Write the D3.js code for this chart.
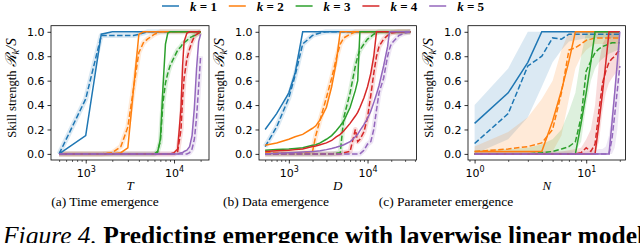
<!DOCTYPE html>
<html><head><meta charset="utf-8">
<script src="https://cdn.jsdelivr.net/npm/d3@7"></script>
<style>body{margin:0;background:#fff;overflow:hidden}</style>
</head><body>
<svg id="c" width="640" height="243"></svg>
<script>
const colors = ["#1f77b4", "#ff7f0e", "#2ca02c", "#d62728", "#9467bd"];
const kValues = [1, 2, 3, 4, 5];
const yTicks = [0, 0.2, 0.4, 0.6, 0.8, 1.0];
const SERIF = "'Liberation Serif'";

// (a) Time emergence
const timeT = [500, 1000, 1500, 2000, 2500, 3000, 3500, 4000, 4500, 5000, 6000, 6500, 7000, 7500, 8000, 8500, 9000, 10000, 11000, 12000, 12500, 13000, 14000, 15000, 16000, 17000, 18000, 19000, 20000];
const timeSolid = [
  [0, 0.15, 0.98, 1, 1, 1, 1, 1, 1, 1, 1, 1, 1, 1, 1, 1, 1, 1, 1, 1, 1, 1, 1, 1, 1, 1, 1, 1, 1],
  [0, 0, 0, 0, 0.01, 0.05, 0.55, 0.98, 1, 1, 1, 1, 1, 1, 1, 1, 1, 1, 1, 1, 1, 1, 1, 1, 1, 1, 1, 1, 1],
  [0, 0, 0, 0, 0, 0, 0, 0, 0, 0, 0, 0.01, 0.12, 0.55, 0.9, 0.99, 1, 1, 1, 1, 1, 1, 1, 1, 1, 1, 1, 1, 1],
  [0, 0, 0, 0, 0, 0, 0, 0, 0, 0, 0, 0, 0, 0, 0, 0, 0, 0.01, 0.04, 0.38, 0.72, 0.92, 0.99, 1, 1, 1, 1, 1, 1],
  [0, 0, 0, 0, 0, 0, 0, 0, 0, 0, 0, 0, 0, 0, 0, 0, 0, 0, 0, 0.01, 0.01, 0.02, 0.03, 0.06, 0.15, 0.38, 0.7, 0.92, 0.98]
];
const timeDashed = [
  [0, 0.45, 0.97, 0.97, 0.97, 0.97, 0.97, 0.98, 0.99, 1, 1, 1, 1, 1, 1, 1, 1, 1, 1, 1, 1, 1, 1, 1, 1, 1, 1, 1, 1],
  [0, 0, 0, 0.01, 0.06, 0.22, 0.55, 0.83, 0.91, 0.94, 0.98, 0.99, 1, 1, 1, 1, 1, 1, 1, 1, 1, 1, 1, 1, 1, 1, 1, 1, 1],
  [0, 0, 0, 0, 0, 0, 0, 0, 0, 0, 0, 0.02, 0.1, 0.42, 0.58, 0.66, 0.72, 0.79, 0.85, 0.88, 0.9, 0.91, 0.93, 0.95, 0.96, 0.97, 0.98, 0.99, 1],
  [0, 0, 0, 0, 0, 0, 0, 0, 0, 0, 0, 0, 0, 0, 0, 0, 0, 0, 0.02, 0.2, 0.45, 0.62, 0.78, 0.86, 0.92, 0.96, 0.98, 0.99, 1],
  [0, 0, 0, 0, 0, 0, 0, 0, 0, 0, 0, 0, 0, 0, 0, 0, 0, 0, 0, 0, 0, 0, 0, 0.01, 0.04, 0.12, 0.3, 0.55, 0.8]
];

// (b) Data emergence
const dataD = [500, 700, 1000, 1200, 1500, 2000, 2200, 2500, 3000, 3500, 4000, 4500, 5000, 6000, 7000, 7500, 8000, 9000, 10000, 11000, 12000, 13000, 14000, 16000, 18000, 19000, 20000, 25000, 30000, 35000];
const dataSolid = [
  [0.2, 0.33, 0.5, 0.66, 1, 1, 1, 1, 1, 1, 1, 1, 1, 1, 1, 1, 1, 1, 1, 1, 1, 1, 1, 1, 1, 1, 1, 1, 1, 1],
  [0.07, 0.09, 0.12, 0.14, 0.16, 0.21, 0.23, 0.28, 0.38, 0.55, 0.75, 1, 1, 1, 1, 1, 1, 1, 1, 1, 1, 1, 1, 1, 1, 1, 1, 1, 1, 1],
  [0.03, 0.035, 0.04, 0.045, 0.05, 0.07, 0.075, 0.09, 0.12, 0.15, 0.19, 0.23, 0.27, 0.38, 0.52, 0.6, 1, 1, 1, 1, 1, 1, 1, 1, 1, 1, 1, 1, 1, 1],
  [0.02, 0.025, 0.03, 0.035, 0.04, 0.06, 0.065, 0.075, 0.09, 0.11, 0.14, 0.16, 0.19, 0.25, 0.31, 0.34, 0.38, 0.46, 0.55, 0.66, 0.8, 1, 1, 1, 1, 1, 1, 1, 1, 1],
  [0, 0.005, 0.01, 0.012, 0.015, 0.02, 0.022, 0.025, 0.035, 0.045, 0.055, 0.065, 0.075, 0.1, 0.14, 0.16, 0.19, 0.24, 0.29, 0.35, 0.42, 0.49, 0.56, 0.72, 0.88, 1, 1, 1, 1, 1]
];
const dataDashed = [
  [0.06, 0.22, 0.46, 0.64, 0.9, 0.97, 0.98, 0.99, 1, 1, 1, 1, 1, 1, 1, 1, 1, 1, 1, 1, 1, 1, 1, 1, 1, 1, 1, 1, 1, 1],
  [0.01, 0.01, 0.01, 0.01, 0.01, 0.02, 0.15, 0.28, 0.46, 0.62, 0.78, 0.9, 0.95, 0.98, 1, 1, 1, 1, 1, 1, 1, 1, 1, 1, 1, 1, 1, 1, 1, 1],
  [0, 0, 0, 0, 0, 0, 0, 0, 0, 0, 0.005, 0.01, 0.3, 0.5, 0.72, 0.8, 0.85, 0.9, 0.94, 0.96, 0.98, 0.99, 1, 1, 1, 1, 1, 1, 1, 1],
  [0, 0, 0, 0, 0, 0, 0, 0, 0, 0, 0, 0, 0.01, 0.02, 0.2, 0.1, 0.12, 0.18, 0.3, 0.48, 0.66, 0.8, 0.88, 0.94, 0.97, 0.98, 0.99, 1, 1, 1],
  [0, 0, 0, 0, 0, 0, 0, 0, 0, 0, 0, 0, 0, 0, 0, 0, 0, 0.03, 0.08, 0.1, 0.2, 0.36, 0.5, 0.62, 0.8, 0.86, 0.9, 0.97, 0.99, 1]
];

// (c) Parameter emergence
const paramN = [1, 2, 3, 4, 5, 6, 7, 8, 9, 10, 11, 12, 13, 14, 15, 16, 17, 18, 19, 20];
const paramSolid = [
  [0.25, 0.5, 0.75, 1, 1, 1, 1, 1, 1, 1, 1, 1, 1, 1, 1, 1, 1, 1, 1, 1],
  [0.02, 0.02, 0.02, 0.02, 0.27, 0.52, 0.76, 1, 1, 1, 1, 1, 1, 1, 1, 1, 1, 1, 1, 1],
  [0, 0, 0, 0, 0, 0, 0, 0, 0.25, 0.5, 0.75, 1, 1, 1, 1, 1, 1, 1, 1, 1],
  [0, 0, 0, 0, 0, 0, 0, 0, 0, 0, 0, 0, 0.25, 0.5, 0.75, 1, 1, 1, 1, 1],
  [0, 0, 0, 0, 0, 0, 0, 0, 0, 0, 0, 0, 0, 0, 0, 0, 0.25, 0.5, 0.75, 1]
];
const paramDashed = [
  [0.085, 0.33, 0.72, 0.8, 0.95, 0.94, 0.98, 0.98, 0.98, 0.98, 0.98, 0.98, 0.98, 0.98, 0.98, 0.98, 0.98, 0.98, 0.98, 0.98],
  [0.02, 0.04, 0.06, 0.09, 0.2, 0.5, 0.85, 0.87, 0.9, 0.93, 0.94, 0.95, 0.95, 0.95, 0.95, 0.95, 0.95, 0.95, 0.95, 0.95],
  [0, 0, 0, 0.01, 0.02, 0.04, 0.06, 0.1, 0.3, 0.68, 0.76, 0.83, 0.86, 0.88, 0.89, 0.9, 0.91, 0.91, 0.91, 0.91],
  [0, 0, 0, 0, 0, 0, 0, 0, 0.01, 0.05, 0.02, 0.08, 0.35, 0.58, 0.68, 0.75, 0.78, 0.8, 0.83, 0.85],
  [0, 0, 0, 0, 0, 0, 0, 0, 0, 0, 0, 0, 0, 0, 0, 0, 0.12, 0.32, 0.52, 0.72]
];
const paramBandLo = [
  [0, 0.12, 0.3, 0.55, 0.75, 0.85, 0.92, 0.93, 0.94, 0.95, 0.95, 0.95, 0.95, 0.95, 0.95, 0.95, 0.95, 0.95, 0.95, 0.95],
  [0, 0, 0, 0, 0.02, 0.15, 0.45, 0.7, 0.8, 0.85, 0.88, 0.9, 0.9, 0.9, 0.9, 0.9, 0.9, 0.9, 0.9, 0.9],
  [0, 0, 0, 0, 0, 0, 0, 0.02, 0.1, 0.4, 0.6, 0.7, 0.75, 0.78, 0.8, 0.82, 0.83, 0.84, 0.85, 0.85],
  [0, 0, 0, 0, 0, 0, 0, 0, 0, 0, 0, 0, 0.1, 0.35, 0.5, 0.58, 0.62, 0.65, 0.68, 0.7],
  [0, 0, 0, 0, 0, 0, 0, 0, 0, 0, 0, 0, 0, 0, 0, 0, 0, 0.05, 0.2, 0.45]
];
const paramBandHi = [
  [0.4, 0.7, 1, 1, 1, 1, 1, 1, 1, 1, 1, 1, 1, 1, 1, 1, 1, 1, 1, 1],
  [0.06, 0.18, 0.3, 0.45, 0.6, 0.85, 1, 1, 1, 1, 1, 1, 1, 1, 1, 1, 1, 1, 1, 1],
  [0.03, 0.04, 0.05, 0.08, 0.12, 0.2, 0.35, 0.5, 0.8, 1, 1, 1, 1, 1, 1, 1, 1, 1, 1, 1],
  [0.02, 0.02, 0.02, 0.02, 0.02, 0.02, 0.03, 0.04, 0.05, 0.12, 0.2, 0.4, 0.75, 0.9, 0.95, 1, 1, 1, 1, 1],
  [0.02, 0.02, 0.02, 0.02, 0.02, 0.02, 0.02, 0.02, 0.02, 0.02, 0.03, 0.03, 0.04, 0.04, 0.06, 0.15, 0.35, 0.55, 0.8, 0.95]
];

const svg = d3.select("#c");
const plotTop = 25.7, plotBottom = 160;
const y = d3.scaleLinear().domain([-0.05, 1.05]).range([plotBottom, plotTop]);

const panels = [
  {x: timeT, solid: timeSolid, dashed: timeDashed, left: 51, right: 209, dom: [Math.pow(10, 2.607), Math.pow(10, 4.396)], majors: [3, 4], xlab: "T", cap: "(a) Time emergence", capX: 105, ylabX: 12},
  {x: dataD, solid: dataSolid, dashed: dataDashed, left: 259, right: 416.5, dom: [Math.pow(10, 2.621), Math.pow(10, 4.622)], majors: [3, 4], xlab: "D", cap: "(b) Data emergence", capX: 276, ylabX: 220},
  {x: paramN, solid: paramSolid, dashed: paramDashed, lo: paramBandLo, hi: paramBandHi, left: 468, right: 625.5, dom: [Math.pow(10, -0.059), Math.pow(10, 1.352)], majors: [0, 1], xlab: "N", cap: "(c) Parameter emergence", capX: 446, ylabX: 429}
];

panels.forEach((p, pi) => {
  const x = d3.scaleLog().domain(p.dom).range([p.left, p.right]);
  const clipId = "clip" + pi;
  svg.append("clipPath").attr("id", clipId).append("rect")
    .attr("x", p.left).attr("y", plotTop).attr("width", p.right - p.left).attr("height", plotBottom - plotTop);
  const g = svg.append("g").attr("clip-path", `url(#${clipId})`);
  const line = d3.line().x((d, i) => x(p.x[i])).y(d => y(d));

  if (p.lo) {
    const area = d3.area().x((d, i) => x(p.x[i])).y0(d => y(d[0])).y1(d => y(d[1]));
    kValues.forEach((k, ki) => {
      const pts = p.lo[ki].map((v, i) => [v, p.hi[ki][i]]);
      g.append("path").attr("d", area(pts)).attr("fill", colors[ki]).attr("fill-opacity", 0.16).attr("stroke", "none");
    });
  } else {
    kValues.forEach((k, ki) => {
      g.append("path").attr("d", line(p.dashed[ki])).attr("fill", "none")
        .attr("stroke", colors[ki]).attr("stroke-opacity", 0.16).attr("stroke-width", 5)
        .attr("stroke-linejoin", "round");
    });
  }
  kValues.forEach((k, ki) => {
    g.append("path").attr("d", line(p.dashed[ki])).attr("fill", "none")
      .attr("stroke", colors[ki]).attr("stroke-width", 1.5).attr("stroke-dasharray", "5.5,2.4");
    g.append("path").attr("d", line(p.solid[ki])).attr("fill", "none")
      .attr("stroke", colors[ki]).attr("stroke-width", 1.5);
  });

  svg.append("rect").attr("x", p.left).attr("y", plotTop).attr("width", p.right - p.left).attr("height", plotBottom - plotTop)
    .attr("fill", "none").attr("stroke", "#000").attr("stroke-width", 0.8);

  const ya = svg.append("g").attr("transform", `translate(${p.left},0)`)
    .call(d3.axisLeft(y).tickValues(yTicks).tickFormat(d3.format(".1f")).tickSize(3.5).tickPadding(3));
  ya.select(".domain").remove();
  ya.selectAll("text").attr("font-family", "DejaVu Sans").attr("font-size", 11).attr("fill", "#000");
  ya.selectAll("line").attr("stroke-width", 0.8);

  const lo = Math.floor(Math.log10(p.dom[0])), hi = Math.ceil(Math.log10(p.dom[1]));
  const minors = [];
  for (let e = lo; e <= hi; e++) for (let m = 2; m <= 9; m++) {
    const v = m * Math.pow(10, e);
    if (v >= p.dom[0] && v <= p.dom[1]) minors.push(v);
  }
  const xm = svg.append("g").attr("transform", `translate(0,${plotBottom})`)
    .call(d3.axisBottom(x).tickValues(minors).tickFormat("").tickSize(2));
  xm.select(".domain").remove();
  xm.selectAll("line").attr("stroke-width", 0.6);
  const xa = svg.append("g").attr("transform", `translate(0,${plotBottom})`)
    .call(d3.axisBottom(x).tickValues(p.majors.map(e => Math.pow(10, e))).tickFormat("").tickSize(3.5));
  xa.select(".domain").remove();
  xa.selectAll("line").attr("stroke-width", 0.8);
  xa.selectAll(".tick").each(function(d, i) {
    const t = d3.select(this).append("text").attr("y", 17).attr("text-anchor", "middle")
      .attr("font-family", "DejaVu Sans").attr("font-size", 11).attr("fill", "#000");
    t.append("tspan").text("10");
    t.append("tspan").attr("dy", -5).attr("font-size", 8).text(String(p.majors[i]));
  });

  svg.append("text").attr("x", (p.left + p.right) / 2).attr("y", 190).attr("text-anchor", "middle")
    .style("font-family", SERIF).attr("font-style", "italic").attr("font-size", 13).text(p.xlab);

  const yl = svg.append("text").attr("transform", `translate(${p.ylabX + 4},88) rotate(-90)`)
    .attr("text-anchor", "middle").style("font-family", SERIF).attr("font-size", 12.5);
  yl.append("tspan").text("Skill strength  ");
  yl.append("tspan").style("font-family", "'DejaVu Serif'").attr("font-style", "italic").attr("font-size", 15).text("ℛ");
  yl.append("tspan").attr("font-style", "italic").attr("font-size", 10).attr("dy", 2.5).text("k");
  yl.append("tspan").attr("font-style", "italic").attr("font-size", 15).attr("dy", -2.5).text("/S");

  svg.append("text").attr("x", p.capX).attr("y", 206).attr("text-anchor", "middle")
    .style("font-family", SERIF).attr("font-size", 13.5).text(p.cap);
});

kValues.forEach((k, ki) => {
  const tx = 190 + 66.8 * ki;
  svg.append("line").attr("x1", tx - 28).attr("x2", tx - 11).attr("y1", 6).attr("y2", 6)
    .attr("stroke", colors[ki]).attr("stroke-width", 1.5);
  const t = svg.append("text").attr("x", tx).attr("y", 10.5).style("font-family", SERIF)
    .attr("font-weight", "bold").attr("font-size", 13);
  t.append("tspan").attr("font-style", "italic").text("k");
  t.append("tspan").text(" = " + k);
});

const fc = svg.append("text").attr("x", 3).attr("y", 244).style("font-family", SERIF).attr("font-size", 25.5);
fc.append("tspan").attr("font-style", "italic").text("Figure 4. ");
fc.append("tspan").attr("font-weight", "bold").text("Predicting emergence with layerwise linear model");
</script>
</body></html>
